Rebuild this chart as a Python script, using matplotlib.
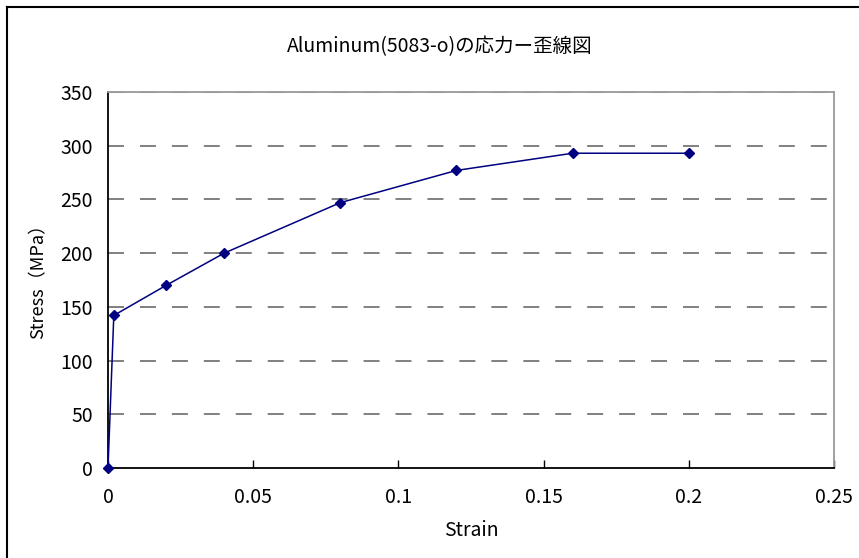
import matplotlib
matplotlib.use("Agg")
import matplotlib.pyplot as plt
from matplotlib.lines import Line2D

plt.rcParams['font.family'] = ['Noto Sans CJK JP', 'DejaVu Sans']
plt.rcParams['lines.scale_dashes'] = False

strain = [0.0, 0.002, 0.02, 0.04, 0.08, 0.12, 0.16, 0.2]
stress = [0, 142, 170, 200, 247, 277, 293, 293]
x_ticks = [0, 0.05, 0.1, 0.15, 0.2, 0.25]
x_tick_labels = ['0', '0.05', '0.1', '0.15', '0.2', '0.25']
y_ticks = [0, 50, 100, 150, 200, 250, 300, 350]

title = 'Aluminum(5083-o)の応力ー歪線図'
xlabel = 'Strain'
ylabel = 'Stress（MPa）'

FS = 14

W, H = 859, 558
fig = plt.figure(figsize=(W / 100, H / 100), dpi=100)
ax = fig.add_axes([108 / W, 1 - 468 / H, (834 - 108) / W, (468 - 92) / H])

for yv in y_ticks[1:]:
    ax.axhline(yv, color='#808080', lw=1.4, ls=(0, (11.5, 11.5)), zorder=1)

ax.plot(strain, stress, color='#000080', lw=1.1, marker='D', markersize=5,
        markerfacecolor='#000080', markeredgecolor='#000080', zorder=3, clip_on=False)

ax.set_xlim(0, 0.25)
ax.set_ylim(0, 350)
ax.set_xticks(x_ticks)
ax.set_xticklabels(x_tick_labels)
ax.set_yticks(y_ticks)
ax.tick_params(axis='x', direction='in', length=6, width=1, colors='black', labelsize=FS, pad=14)
ax.tick_params(axis='y', direction='in', length=0, width=1, labelsize=FS, pad=11)
for lab in ax.get_xticklabels() + ax.get_yticklabels():
    lab.set_color('black')

ax.spines['left'].set_color('black')
ax.spines['bottom'].set_color('black')
ax.spines['left'].set_linewidth(1.3)
ax.spines['bottom'].set_linewidth(1.3)
ax.spines['top'].set_color('#999999')
ax.spines['right'].set_color('#999999')
ax.spines['top'].set_linewidth(1.3)
ax.spines['right'].set_linewidth(1.3)

fig.text(440 / W, 1 - 47 / H, title, ha='center', va='center', fontsize=FS)
fig.text(471 / W, 1 - 531 / H, xlabel, ha='center', va='center', fontsize=FS)
fig.text(38 / W, 1 - 277 / H, ylabel, ha='center', va='center', fontsize=13, rotation=90)

# outer chart border (left and top visible)
fig.add_artist(Line2D([7 / W, 7 / W], [0, 1 - 7 / H], transform=fig.transFigure, color='black', lw=1.5))
fig.add_artist(Line2D([7 / W, 1], [1 - 7 / H, 1 - 7 / H], transform=fig.transFigure, color='black', lw=1.5))

fig.savefig('out.png', dpi=100)
